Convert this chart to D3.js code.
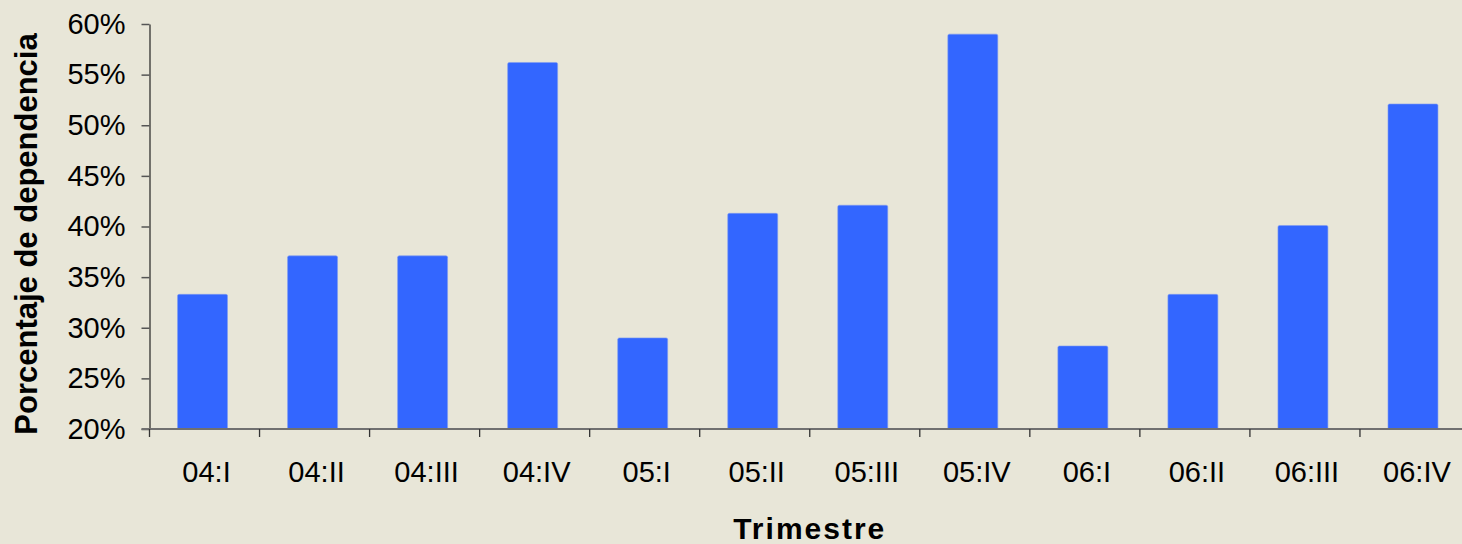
<!DOCTYPE html>
<html>
<head>
<meta charset="utf-8">
<script src="https://cdn.jsdelivr.net/npm/d3@7"></script>
<style>
  html, body { margin: 0; padding: 0; background: #e8e6d8; }
  svg { display: block; font-family: "Liberation Sans", Arial, sans-serif; }
</style>
</head>
<body>
<figure id="bar" style="margin:0"></figure>
<script>
// chart data
const trimestres = ["04:I", "04:II", "04:III", "04:IV", "05:I", "05:II", "05:III", "05:IV", "06:I", "06:II", "06:III", "06:IV"];
const dependencia = [0.333, 0.371, 0.371, 0.562, 0.29, 0.413, 0.421, 0.59, 0.282, 0.333, 0.401, 0.521];
const yTicks = [0.2, 0.25, 0.3, 0.35, 0.4, 0.45, 0.5, 0.55, 0.6];

const width = 1462, height = 544;
const mLeft = 149.5, mRight = 1470, mTop = 24, mBottom = 429;

const svg = d3.select("figure#bar")
  .append("svg")
  .attr("width", width)
  .attr("height", height);

svg.append("rect")
  .attr("width", width)
  .attr("height", height)
  .attr("fill", "#e8e6d8");

// x scale
const x = d3.scaleBand()
  .domain(trimestres)
  .range([mLeft - 2, mRight - 2])
  .paddingInner(0.546)
  .paddingOuter(0.273);

// y scale
const y = d3.scaleLinear()
  .domain([0.2, 0.6])
  .range([mBottom, mTop]);

// bars
svg.selectAll("rect.bar")
  .data(dependencia)
  .enter()
  .append("rect")
  .attr("class", "bar")
  .attr("x", (d, i) => x(trimestres[i]))
  .attr("y", d => y(d))
  .attr("width", x.bandwidth())
  .attr("height", d => mBottom - y(d))
  .attr("rx", 1.5)
  .attr("fill", "#3366ff")
  .attr("stroke", "#7f9cf0")
  .attr("stroke-width", 0.6);

// y axis
const yAxis = svg.append("g")
  .attr("transform", "translate(" + mLeft + ",0)")
  .call(d3.axisLeft(y)
    .tickValues(yTicks)
    .tickFormat(d3.format(".0%"))
    .tickSize(8)
    .tickSizeOuter(0)
    .tickPadding(16));
yAxis.select(".domain").attr("stroke", "#222").attr("stroke-width", 1.2);
yAxis.selectAll(".tick line").attr("stroke", "#555").attr("stroke-width", 1.5);
yAxis.selectAll(".tick text")
  .attr("fill", "#000")
  .style("font-size", "29px")
  .style("font-family", "Liberation Sans, Arial, sans-serif");

// x axis: line, boundary ticks, labels
const xAxis = svg.append("g");
xAxis.append("line")
  .attr("x1", mLeft - 8)
  .attr("x2", width)
  .attr("y1", mBottom)
  .attr("y2", mBottom)
  .attr("stroke", "#707070")
  .attr("stroke-width", 2);

const step = x.step();
const bounds = d3.range(trimestres.length + 1).map(i => mLeft + i * step);
xAxis.selectAll("line.tick")
  .data(bounds)
  .enter()
  .append("line")
  .attr("class", "tick")
  .attr("x1", d => d)
  .attr("x2", d => d)
  .attr("y1", mBottom)
  .attr("y2", mBottom + 8)
  .attr("stroke", "#333")
  .attr("stroke-width", 1.3);

xAxis.selectAll("text")
  .data(trimestres)
  .enter()
  .append("text")
  .attr("x", d => x(d) + x.bandwidth() / 2 + 4)
  .attr("y", 482)
  .attr("text-anchor", "middle")
  .style("font-size", "29px")
  .attr("fill", "#000")
  .text(d => d);

// axis titles
svg.append("text")
  .attr("x", (mLeft + mRight) / 2)
  .attr("y", 539)
  .attr("text-anchor", "middle")
  .style("font-size", "30px")
  .style("font-weight", "bold")
  .style("letter-spacing", "2px")
  .text("Trimestre");

svg.append("text")
  .attr("transform", "translate(37,234) rotate(-90)")
  .attr("text-anchor", "middle")
  .style("font-size", "31px")
  .style("font-weight", "bold")
  .text("Porcentaje de dependencia");
</script>
</body>
</html>
